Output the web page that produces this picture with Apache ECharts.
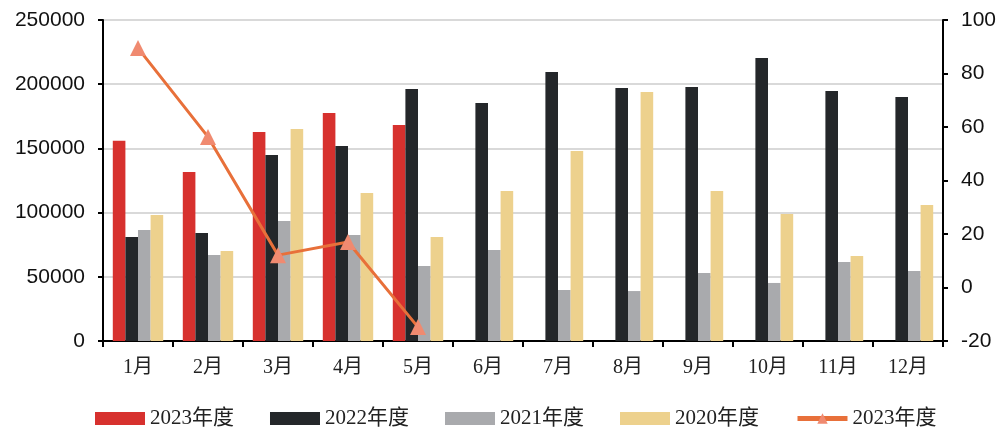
<!DOCTYPE html>
<html>
<head>
<meta charset="utf-8">
<script src="https://cdn.jsdelivr.net/npm/echarts@6/dist/echarts.min.js"></script>
<style>
  html, body { margin: 0; padding: 0; background: #fff; }
  #chart { width: 1002px; height: 427px; }
</style>
</head>
<body>
<div id="chart"></div>
<script>
// 月份
const months = ['1月', '2月', '3月', '4月', '5月', '6月', '7月', '8月', '9月', '10月', '11月', '12月'];

// 各年度数值（左轴）
const y2023 = [156000, 131600, 162800, 177600, 168200, null, null, null, null, null, null, null];
const y2022 = [81000, 84100, 144900, 151900, 196300, 185400, 209500, 197000, 197800, 220400, 194700, 190000];
const y2021 = [86400, 67000, 93500, 82600, 58400, 70900, 39700, 38900, 53000, 45200, 61500, 54500];
const y2020 = [98100, 70100, 165100, 115300, 81000, 116800, 148000, 193900, 116800, 98900, 66200, 105900];

// 2023年度 折线（右轴）
const line2023 = [89.5, 56.3, 12.1, 17, -14.8, null, null, null, null, null, null, null];

const serifFont = "'Liberation Serif', 'Noto Sans CJK SC', serif";
const sansFont = "'Liberation Sans', Arial, sans-serif";

const chart = echarts.init(document.getElementById('chart'));

const barSeries = (name, data, color) => ({
  name: name,
  type: 'bar',
  yAxisIndex: 0,
  data: data,
  barGap: '0%',
  barCategoryGap: '28%',
  itemStyle: { color: color }
});

const option = {
  animation: false,
  grid: { left: 103, right: 59, top: 20, bottom: 86 },
  legend: {
    top: 403,
    left: 90,
    itemWidth: 50,
    itemHeight: 13,
    itemGap: 36,
    textStyle: { fontFamily: serifFont, fontSize: 21, color: '#222' },
    data: [
      { name: '2023年度', icon: 'rect' },
      { name: '2022年度', icon: 'rect' },
      { name: '2021年度', icon: 'rect' },
      { name: '2020年度', icon: 'rect' },
      { name: '2023年度 ', lineStyle: { width: 5 } }
    ]
  },
  xAxis: {
    type: 'category',
    data: months,
    axisLine: { lineStyle: { color: '#000', width: 2 } },
    axisTick: { show: true, length: 6, lineStyle: { color: '#000', width: 2 } },
    axisLabel: { fontFamily: serifFont, fontSize: 20, color: '#222', margin: 17 }
  },
  yAxis: [
    {
      type: 'value',
      min: 0,
      max: 250000,
      interval: 50000,
      axisLine: { show: true, lineStyle: { color: '#000', width: 2 } },
      axisTick: { show: true, length: 5, lineStyle: { color: '#000', width: 2 } },
      axisLabel: { fontFamily: sansFont, fontSize: 21, color: '#111', margin: 18, formatter: v => String(v) },
      splitLine: { lineStyle: { color: '#d9d9d9', width: 2 } }
    },
    {
      type: 'value',
      min: -20,
      max: 100,
      interval: 20,
      axisLine: { show: true, lineStyle: { color: '#000', width: 2 } },
      axisTick: { show: true, length: 5, lineStyle: { color: '#000', width: 2 } },
      axisLabel: { fontFamily: sansFont, fontSize: 21, color: '#111', margin: 18 },
      splitLine: { show: false }
    }
  ],
  series: [
    barSeries('2023年度', y2023, '#d7312e'),
    barSeries('2022年度', y2022, '#24272a'),
    barSeries('2021年度', y2021, '#a9aaad'),
    barSeries('2020年度', y2020, '#edd18d'),
    {
      name: '2023年度 ',
      type: 'line',
      yAxisIndex: 1,
      data: line2023,
      symbol: 'triangle',
      symbolSize: 16,
      lineStyle: { color: '#e8703a', width: 3 },
      itemStyle: { color: '#f08a70' },
      z: 5
    }
  ]
};

chart.setOption(option);
</script>
</body>
</html>
